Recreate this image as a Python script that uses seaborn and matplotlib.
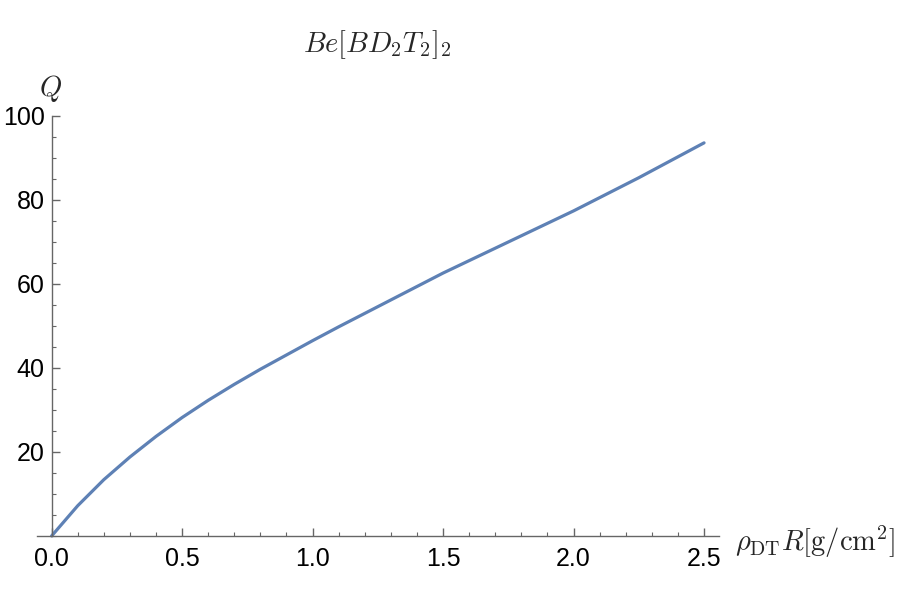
import matplotlib
matplotlib.use('Agg')
import matplotlib.pyplot as plt
import matplotlib.ticker as mticker
import pandas as pd
import seaborn as sns

# values
rho_r = [0, 0.1, 0.2, 0.3, 0.4, 0.5, 0.6, 0.7, 0.8, 0.9, 1.0, 1.1, 1.25, 1.5, 1.75, 2.0, 2.25, 2.5]
q_vals = [0, 7.2, 13.4, 18.8, 23.7, 28.2, 32.3, 36.1, 39.7, 43.1, 46.5, 49.8, 54.6, 62.6, 70.0, 77.4, 85.3, 93.6]
x_ticks = [0.0, 0.5, 1.0, 1.5, 2.0, 2.5]
y_ticks = [20, 40, 60, 80, 100]

df = pd.DataFrame({'rhoR': rho_r, 'Q': q_vals})

sns.set_style('white')
plt.rcParams['font.family'] = ['Liberation Sans', 'DejaVu Sans']
plt.rcParams['mathtext.fontset'] = 'cm'

fig = plt.figure(figsize=(9, 6), dpi=100)
ax = fig.add_axes([0.0408, 0.1067, 0.758, 0.70])

line_color = '#5E81B5'
axis_color = '#666666'

sns.lineplot(data=df, x='rhoR', y='Q', ax=ax, color=line_color, linewidth=2.3,
             clip_on=False)

ax.set_xlim(-0.057, 2.557)
ax.set_ylim(0, 100)

ax.spines['top'].set_visible(False)
ax.spines['right'].set_visible(False)
ax.spines['left'].set_position(('data', 0))
for s in ('left', 'bottom'):
    ax.spines[s].set_color(axis_color)
    ax.spines[s].set_linewidth(1.0)

ax.set_xticks(x_ticks)
ax.set_xticklabels([f'{t:.1f}' for t in x_ticks])
ax.set_yticks(y_ticks)
ax.set_yticklabels([str(t) for t in y_ticks])
ax.xaxis.set_minor_locator(mticker.MultipleLocator(0.1))
ax.yaxis.set_minor_locator(mticker.MultipleLocator(5))

ax.tick_params(axis='both', which='both', direction='in', color=axis_color,
               labelsize=18, labelcolor='black')
ax.tick_params(axis='both', which='major', length=6, width=1.0)
ax.tick_params(axis='both', which='minor', length=3, width=0.8)
ax.tick_params(axis='x', which='major', pad=8)
ax.tick_params(axis='y', which='major', pad=5)
ax.tick_params(bottom=True, left=True, which='both')

ax.set_xlabel('')
ax.set_ylabel('')
ax.grid(False)

fig.text(0.419, 0.925, r'$Be[BD_2T_2]_2$', fontsize=20.5, ha='center', va='center')
fig.text(0.0556, 0.853, r'$Q$', fontsize=20.5, ha='center', va='center')
fig.text(0.8167, 0.0967, r'$\rho_{\mathrm{DT}}R[\mathrm{g/cm}^2]$', fontsize=20.5,
         ha='left', va='center')

fig.savefig('out.png', dpi=100)
